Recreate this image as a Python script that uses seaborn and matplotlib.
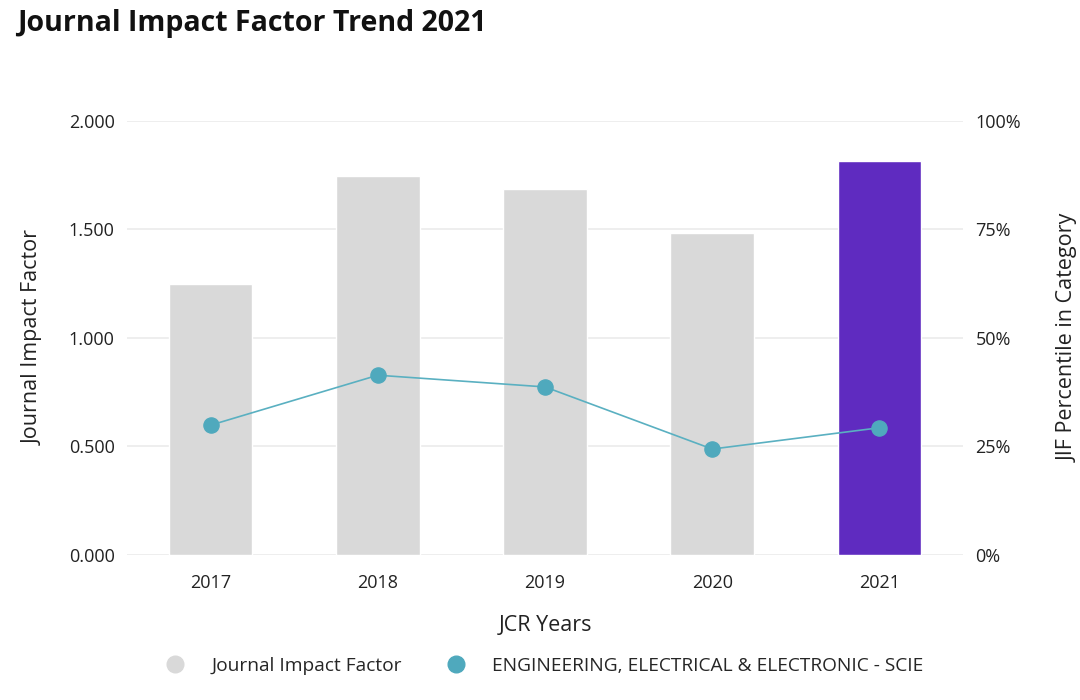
import matplotlib
matplotlib.use("Agg")
import matplotlib.pyplot as plt
import seaborn as sns
import pandas as pd
from matplotlib.lines import Line2D
from matplotlib.ticker import FuncFormatter

years = ["2017", "2018", "2019", "2020", "2021"]
jif = [1.247, 1.747, 1.685, 1.483, 1.813]
percentile = [29.9, 41.4, 38.7, 24.4, 29.3]
bar_colors = ["#D9D9D9", "#D9D9D9", "#D9D9D9", "#D9D9D9", "#5F2BC0"]
series_names = ["Journal Impact Factor", "ENGINEERING, ELECTRICAL & ELECTRONIC - SCIE"]
left_ticks = [0.0, 0.5, 1.0, 1.5, 2.0]
right_ticks = [0, 25, 50, 75, 100]

sns.set_theme(style="white")
plt.rcParams['font.family'] = ['Open Sans', 'DejaVu Sans']

df = pd.DataFrame({"year": years, "jif": jif, "pct": percentile})

fig = plt.figure(figsize=(10.8, 7), dpi=100)
ax = fig.add_axes([0.1176, 0.2071, 0.7741, 0.6205])

sns.barplot(data=df, x="year", y="jif", hue="year", palette=bar_colors,
            legend=False, width=0.5, ax=ax, saturation=1)
ax.set_ylim(0, 2.0)
ax.set_yticks(left_ticks)
ax.yaxis.set_major_formatter(FuncFormatter(lambda v, p: f"{v:.3f}"))
ax.grid(axis="y", color="#EBEBEB", linewidth=1.2)
ax.set_axisbelow(True)
for s in ax.spines.values():
    s.set_visible(False)
ax.tick_params(axis="y", length=0, labelsize=13, colors="#222222", pad=9)
ax.tick_params(axis="x", length=0, labelsize=13, colors="#222222", pad=14)
ax.set_xlabel("JCR Years", fontsize=15.5, color="#222222", labelpad=16)
ax.set_ylabel("Journal Impact Factor", fontsize=15.5, color="#222222", labelpad=18)

ax2 = ax.twinx()
sns.pointplot(data=df, x="year", y="pct", ax=ax2, color="#5AB0C1",
              markersize=11, linewidth=1.2, errorbar=None)
for ln in ax2.lines:
    ln.set_markerfacecolor("#4FA9BD")
    ln.set_markeredgecolor("#4FA9BD")
    ln.set_markersize(11)
ax2.set_ylim(0, 100)
ax2.set_yticks(right_ticks)
ax2.yaxis.set_major_formatter(FuncFormatter(lambda v, p: f"{int(v)}%"))
for s in ax2.spines.values():
    s.set_visible(False)
ax2.tick_params(axis="y", length=0, labelsize=13, colors="#222222", pad=9)
ax2.set_ylabel("JIF Percentile in Category", fontsize=15.5, color="#222222", labelpad=26)
ax2.grid(False)
ax2.set_xlabel("")

fig.text(0.016, 0.967, "Journal Impact Factor Trend 2021", fontsize=20.5,
         fontweight="bold", color="#111111", ha="left", va="center")

handles = [
    Line2D([0], [0], marker="o", linestyle="none", markersize=12,
           markerfacecolor="#D9D9D9", markeredgecolor="#D9D9D9"),
    Line2D([0], [0], marker="o", linestyle="none", markersize=12,
           markerfacecolor="#4FA9BD", markeredgecolor="#4FA9BD"),
]
fig.legend(handles, series_names, loc="center", bbox_to_anchor=(0.5, 0.049),
           ncol=2, frameon=False, fontsize=13.8, handletextpad=0.9,
           columnspacing=1.8)

fig.savefig("out.png", dpi=100)
